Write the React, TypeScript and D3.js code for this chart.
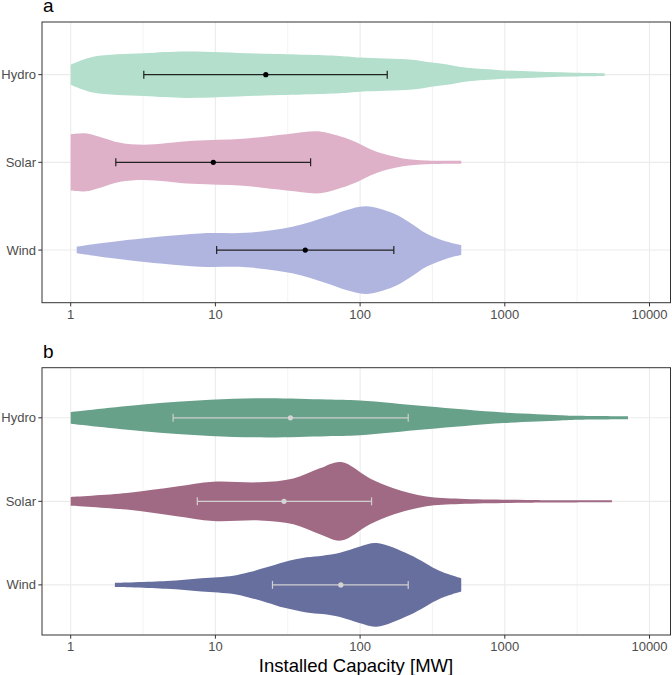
import React from "react";
import * as d3 from "d3";

const categories = ["Hydro", "Solar", "Wind"];
const xTicks = [1, 10, 100, 1000, 10000];
const xMinor = [Math.sqrt(10), Math.sqrt(1000), Math.sqrt(100000), Math.sqrt(10000000)];

// density profiles: [capacity MW, relative density]
const hydroA: [number, number][] = [
  [1, 0.23], [1.43, 0.41], [3.2, 0.49], [6.3, 0.53], [20, 0.48], [72, 0.425], [100, 0.39],
  [150, 0.37], [230, 0.34], [303, 0.28], [400, 0.23], [517, 0.166], [880, 0.107], [1300, 0.08],
  [1950, 0.06], [3000, 0.045], [4900, 0.034],
];
const solarA: [number, number][] = [
  [1, 0.64], [1.29, 0.66], [1.6, 0.58], [2.2, 0.445], [3.2, 0.4], [7, 0.49], [15.5, 0.536],
  [31, 0.643], [52.7, 0.705], [70, 0.61], [89, 0.49], [130, 0.24], [198, 0.09], [287, 0.045], [500, 0.034],
];
const windA: [number, number][] = [
  [1.1, 0.075], [2.44, 0.227], [7.8, 0.38], [16.4, 0.393], [34, 0.53], [58.6, 0.757], [80, 0.91],
  [110, 1.0], [169, 0.84], [220, 0.63], [287, 0.38], [400, 0.19], [500, 0.114],
];
const hydroB: [number, number][] = [
  [1, 0.14], [3.16, 0.32], [9.2, 0.434], [22.7, 0.47], [58.6, 0.44], [100, 0.417], [287, 0.276],
  [980, 0.127], [2420, 0.064], [3150, 0.047], [7100, 0.035],
];
const solarB: [number, number][] = [
  [1, 0.104], [2.44, 0.198], [5.4, 0.354], [9.65, 0.47], [20.3, 0.458], [34.6, 0.55], [52.7, 0.79],
  [74, 0.94], [117, 0.55], [170, 0.316], [287, 0.118], [490, 0.064], [1420, 0.035], [5500, 0.024],
];
const windB: [number, number][] = [
  [2.02, 0.05], [4.6, 0.094], [8, 0.16], [13.3, 0.22], [17, 0.3], [22.6, 0.42], [30, 0.55],
  [42.7, 0.66], [55, 0.7], [72.6, 0.77], [100, 0.92], [130, 1.0], [220, 0.72], [356, 0.33], [500, 0.158],
];

// error bars: [lower, point, upper]
const summaryA: [number, number, number][] = [
  [3.2, 22.3, 154], [2.05, 9.67, 45.5], [10.2, 41.8, 171],
];
const summaryB: [number, number, number][] = [
  [5.1, 33, 215], [7.5, 29.8, 120], [24.8, 73.6, 215],
];

const colorsA = ["#b3dfcc", "#deb1c8", "#b0b5e0"];
const colorsB = ["#67a18a", "#a16a84", "#676f9f"];

const W = 672;
const H = 675;
const left = 42;
const right = 670.5;
const x = d3.scaleLog().domain([1, 10000]).range([70.7, 649.5]);

function Panel(props: {
  top: number; bottom: number; label: string; dens: [number, number][][];
  summary: [number, number, number][]; colors: string[]; barColor: string; pointColor: string;
}) {
  const { top, bottom, label, dens, summary, colors, barColor, pointColor } = props;
  const y = d3.scalePoint<string>().domain(categories).range([top, bottom]).padding(0.6);
  const step = y.step();
  return (
    <g>
      <text x={43} y={top - 10} fontSize={19} fill="#000">{label}</text>
      {xMinor.map((v, i) => (
        <line key={"mn" + i} x1={x(v)} x2={x(v)} y1={top} y2={bottom} stroke="#ebebeb" strokeWidth={0.6} />
      ))}
      {xTicks.map((v, i) => (
        <line key={"mj" + i} x1={x(v)} x2={x(v)} y1={top} y2={bottom} stroke="#ebebeb" strokeWidth={1.1} />
      ))}
      {categories.map((c) => (
        <line key={"yg" + c} x1={left} x2={right} y1={y(c)} y2={y(c)} stroke="#ebebeb" strokeWidth={1.1} />
      ))}
      {categories.map((c, i) => {
        const cy = y(c)!;
        const area = d3
          .area<[number, number]>()
          .x((d) => x(d[0]))
          .y0((d) => cy - d[1] * 0.5 * step)
          .y1((d) => cy + d[1] * 0.5 * step)
          .curve(d3.curveCatmullRom.alpha(0.5));
        return <path key={"v" + c} d={area(dens[i]) || ""} fill={colors[i]} />;
      })}
      {categories.map((c, i) => {
        const cy = y(c)!;
        const [lo, mid, hi] = summary[i];
        return (
          <g key={"e" + c} stroke={barColor} strokeWidth={1.2}>
            <line x1={x(lo)} x2={x(hi)} y1={cy} y2={cy} />
            <line x1={x(lo)} x2={x(lo)} y1={cy - 4} y2={cy + 4} />
            <line x1={x(hi)} x2={x(hi)} y1={cy - 4} y2={cy + 4} />
            <circle cx={x(mid)} cy={cy} r={2.6} fill={pointColor} stroke="none" />
          </g>
        );
      })}
      <rect x={left} y={top} width={right - left} height={bottom - top} fill="none" stroke="#333" strokeWidth={1} />
      {categories.map((c) => (
        <g key={"yt" + c}>
          <line x1={left - 3.7} x2={left} y1={y(c)} y2={y(c)} stroke="#333" strokeWidth={1} />
          <text x={left - 6} y={y(c)! + 4.5} textAnchor="end" fontSize={13} fill="#4d4d4d">{c}</text>
        </g>
      ))}
      {xTicks.map((v) => (
        <g key={"xt" + v}>
          <line x1={x(v)} x2={x(v)} y1={bottom} y2={bottom + 3.7} stroke="#333" strokeWidth={1} />
          <text x={x(v)} y={bottom + 16} textAnchor="middle" fontSize={13} fill="#4d4d4d">{v}</text>
        </g>
      ))}
    </g>
  );
}

export default function App() {
  return (
    <svg
      width={W}
      height={H}
      style={{ position: "absolute", left: 0, top: 0, display: "block", fontFamily: "'Liberation Sans', Arial, sans-serif" }}
    >
      <rect width={W} height={H} fill="#fff" />
      <Panel top={22} bottom={302.7} label="a" dens={[hydroA, solarA, windA]} summary={summaryA}
        colors={colorsA} barColor="#222" pointColor="#000" />
      <Panel top={367.7} bottom={635} label="b" dens={[hydroB, solarB, windB]} summary={summaryB}
        colors={colorsB} barColor="#cfcfcf" pointColor="#d4d4d4" />
      <text x={356} y={671.5} textAnchor="middle" fontSize={18.5} fill="#000">Installed Capacity [MW]</text>
    </svg>
  );
}
